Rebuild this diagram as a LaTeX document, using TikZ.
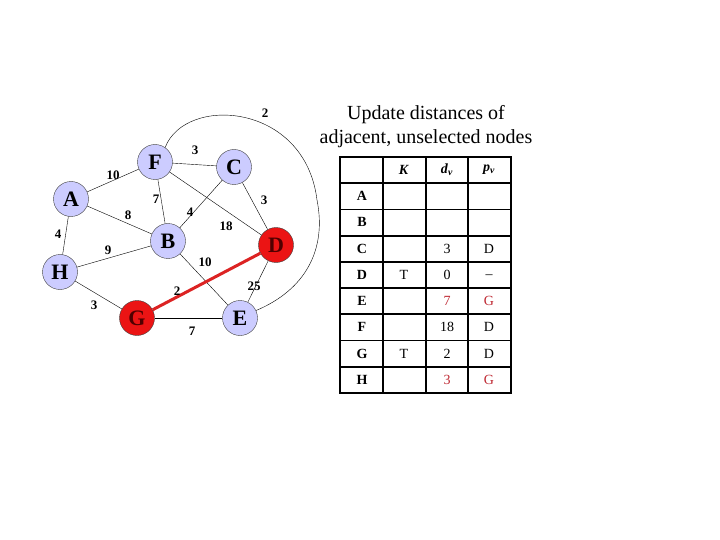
\documentclass[tikz,border=0pt]{standalone}
\usepackage{fontspec}
\setmainfont{Liberation Serif}
\definecolor{nodeblue}{RGB}{204,204,255}
\definecolor{nodered}{RGB}{235,20,20}
\definecolor{nodetext}{RGB}{80,0,0}
\definecolor{edgered}{RGB}{220,35,35}
\definecolor{valred}{RGB}{190,40,50}
\begin{document}
\begin{tikzpicture}[x=1pt, y=-1pt,
    vertex/.style={shape=circle, draw=black!75, fill=nodeblue, minimum size=35pt, inner sep=0pt, font=\fontsize{22}{22}\selectfont\bfseries},
    chosen/.style={vertex, fill=nodered, text=nodetext},
    weight/.style={inner sep=0pt, font=\fontsize{13}{13}\selectfont\bfseries},
    cell/.style={inner sep=0pt, font=\fontsize{14}{14}\selectfont},
    rowname/.style={cell, font=\fontsize{14}{14}\selectfont\bfseries},
    changed/.style={cell, text=valred}]
    \useasboundingbox (0, 0) rectangle (720, 540);

    \node (A) [vertex] at (71, 199) {A};
    \node (F) [vertex] at (155, 162) {F};
    \node (C) [vertex] at (234, 167) {C};
    \node (B) [vertex] at (168, 241) {B};
    \node (D) [chosen] at (276, 245) {D};
    \node (H) [vertex] at (60, 272) {H};
    \node (G) [chosen] at (137, 318) {G};
    \node (E) [vertex] at (240, 318) {E};

    \draw (A) -- (F);
    \draw (F) -- (C);
    \draw (A) -- (B);
    \draw (F) -- (B);
    \draw (A) -- (H);
    \draw (H) -- (B);
    \draw (C) -- (B);
    \draw (F) -- (D);
    \draw (C) -- (D);
    \draw (B) -- (E);
    \draw (D) -- (E);
    \draw (H) -- (G);
    \draw (G) -- (E);
    \draw (F.55) .. controls (185, 95) and (305, 102) .. (317, 200) .. controls (327, 250) and (305, 290) .. (E.25);
    \draw [line width=3pt, edgered] (G) -- (D);

    \node (wAF) [weight] at (113, 175) {10};
    \node (wFC) [weight] at (195, 150) {3};
    \node (wAB) [weight] at (128, 215) {8};
    \node (wFB) [weight] at (156, 199) {7};
    \node (wAH) [weight] at (58, 234) {4};
    \node (wHB) [weight] at (108, 250) {9};
    \node (wCB) [weight] at (190, 212) {4};
    \node (wFD) [weight] at (226, 226) {18};
    \node (wCD) [weight] at (264, 200) {3};
    \node (wBE) [weight] at (205, 262) {10};
    \node (wGD) [weight] at (177, 291) {2};
    \node (wDE) [weight] at (254, 286) {25};
    \node (wHG) [weight] at (94, 305) {3};
    \node (wGE) [weight] at (192, 331) {7};
    \node (wFE) [weight] at (265, 113) {2};

    \node (title) [align=center, font=\fontsize{20}{24}\selectfont] at (426, 127) {Update distances of\\adjacent, unselected nodes};

    % table
    \pgfmathsetmacro{\xl}{340};
    \pgfmathsetmacro{\xr}{511};
    \pgfmathsetmacro{\yt}{157};
    \pgfmathsetmacro{\hr}{26.22};
    \draw [line width=2pt] (\xl, \yt) rectangle (\xr, \yt + 9*\hr);
    \draw [line width=1.8pt] (383, \yt) -- (383, \yt + 9*\hr);
    \draw [line width=1.8pt] (426, \yt) -- (426, \yt + 9*\hr);
    \draw [line width=1.8pt] (468, \yt) -- (468, \yt + 9*\hr);
    \draw [line width=1.8pt] (\xl, \yt + \hr) -- (\xr, \yt + \hr);
    \draw [line width=1.8pt] (\xl, \yt + 2*\hr) -- (\xr, \yt + 2*\hr);
    \draw [line width=1.8pt] (\xl, \yt + 3*\hr) -- (\xr, \yt + 3*\hr);
    \draw [line width=1.8pt] (\xl, \yt + 4*\hr) -- (\xr, \yt + 4*\hr);
    \draw [line width=1.8pt] (\xl, \yt + 5*\hr) -- (\xr, \yt + 5*\hr);
    \draw [line width=1.8pt] (\xl, \yt + 6*\hr) -- (\xr, \yt + 6*\hr);
    \draw [line width=1.8pt] (\xl, \yt + 7*\hr) -- (\xr, \yt + 7*\hr);
    \draw [line width=1.8pt] (\xl, \yt + 8*\hr) -- (\xr, \yt + 8*\hr);

    \node (hK) [rowname] at (404, 170) {\textit{K}};
    \node (hd) [rowname] at (447, 170) {\textit{d}\textsubscript{\textit{v}}};
    \node (hp) [rowname] at (489, 170) {\textit{p}\textsubscript{\textit{v}}};

    \node (rA) [rowname] at (362, 196) {A};
    \node (rB) [rowname] at (362, 222) {B};
    \node (rC) [rowname] at (362, 249) {C};
    \node (rD) [rowname] at (362, 275) {D};
    \node (rE) [rowname] at (362, 301) {E};
    \node (rF) [rowname] at (362, 327) {F};
    \node (rG) [rowname] at (362, 354) {G};
    \node (rH) [rowname] at (362, 380) {H};

    \node (dC) [cell] at (447, 249) {3};
    \node (pC) [cell] at (489, 249) {D};
    \node (kD) [cell] at (404, 275) {T};
    \node (dD) [cell] at (447, 275) {0};
    \node (pD) [cell] at (489, 277) {--};
    \node (dE) [changed] at (447, 301) {7};
    \node (pE) [changed] at (489, 301) {G};
    \node (dF) [cell] at (447, 327) {18};
    \node (pF) [cell] at (489, 327) {D};
    \node (kG) [cell] at (404, 354) {T};
    \node (dG) [cell] at (447, 354) {2};
    \node (pG) [cell] at (489, 354) {D};
    \node (dH) [changed] at (447, 380) {3};
    \node (pH) [changed] at (489, 380) {G};
  \end{tikzpicture}
\end{document}
